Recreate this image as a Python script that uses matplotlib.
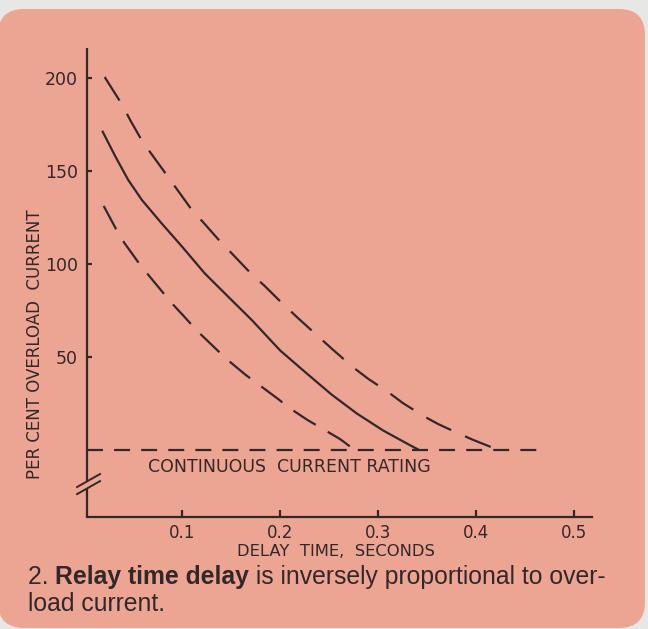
import matplotlib
matplotlib.use("Agg")
import matplotlib.pyplot as plt
from matplotlib.patches import FancyBboxPatch

# --- data ------------------------------------------------------------------
# upper (dashed) limit curve
upper_x = [0.021, 0.039, 0.047, 0.059, 0.067, 0.085, 0.094, 0.110, 0.121,
           0.140, 0.149, 0.170, 0.184, 0.202, 0.218, 0.235, 0.253, 0.274,
           0.290, 0.310, 0.325, 0.346, 0.361, 0.381, 0.397, 0.417]
upper_y = [200.5, 185.5, 177.4, 166.3, 160.4, 147.3, 140.7, 129.0, 122.7,
           111.4, 106.6, 95.0, 88.3, 78.9, 71.0, 62.9, 54.3, 44.6,
           38.2, 31.2, 25.3, 18.3, 14.0, 9.1, 5.4, 1.2]
# nominal (solid) curve
mid_x = [0.019, 0.032, 0.045, 0.059, 0.079, 0.100, 0.123, 0.147, 0.171,
         0.200, 0.227, 0.252, 0.278, 0.305, 0.332, 0.340]
mid_y = [171.1, 157.7, 145.2, 134.4, 121.9, 109.3, 95.0, 82.4, 69.9,
         53.5, 41.2, 30.0, 19.7, 10.5, 2.7, 0.5]
# lower (dashed) limit curve
lower_x = [0.020, 0.034, 0.041, 0.056, 0.065, 0.083, 0.089, 0.106, 0.115,
           0.135, 0.144, 0.165, 0.176, 0.198, 0.208, 0.228, 0.242, 0.261,
           0.271, 0.279]
lower_y = [131.2, 117.4, 111.4, 100.4, 94.5, 83.0, 79.2, 69.5, 64.2,
           54.1, 49.5, 40.3, 36.0, 27.4, 23.1, 16.1, 11.8, 5.9, 2.0, 0.0]
# continuous current rating line
rating_x = [0.003, 0.466]
rating_y = [0.0, 0.0]

xticks = [0.1, 0.2, 0.3, 0.4, 0.5]
xticklabels = ["0.1", "0.2", "0.3", "0.4", "0.5"]
yticks = [50, 100, 150, 200]
yticklabels = ["50", "100", "150", "200"]

BG = "#E7E7E5"
CARD = "#ECA592"
INK = "#33272A"

plt.rcParams["lines.scale_dashes"] = False
plt.rcParams["font.family"] = ["DejaVu Sans"]

W, H = 648, 629
fig = plt.figure(figsize=(W / 100, H / 100), dpi=100)
fig.patch.set_facecolor(BG)

# salmon card with rounded corners (inches)
card = FancyBboxPatch((-0.02, 0.01), 6.47, 6.19,
                      boxstyle="round,pad=0,rounding_size=0.26",
                      transform=fig.dpi_scale_trans,
                      facecolor=CARD, edgecolor="none", zorder=-5)
fig.patches.append(card)

ax = fig.add_axes([87 / W, 1 - 517 / H, 505 / W, 469 / H])
ax.set_zorder(2)
ax.set_facecolor("none")
ax.set_xlim(0.003, 0.518)
ax.set_ylim(-36.0, 216.1)

lw = 1.6
ax.plot(upper_x, upper_y, color=INK, lw=lw, dashes=(20, 11),
        dash_capstyle="butt", dash_joinstyle="round")
ax.plot(mid_x, mid_y, color=INK, lw=lw, solid_joinstyle="round")
ax.plot(lower_x, lower_y, color=INK, lw=lw, dashes=(19, 10),
        dash_capstyle="butt", dash_joinstyle="round")
ax.plot(rating_x, rating_y, color=INK, lw=lw, dashes=(11.5, 8),
        dash_capstyle="butt")

ax.text(0.065, -9, "CONTINUOUS  CURRENT RATING", fontsize=12.5,
        color=INK, va="center", ha="left")

# spines: bottom kept, left drawn by hand with a break
for s in ("top", "right", "left"):
    ax.spines[s].set_visible(False)
ax.spines["bottom"].set_linewidth(lw)
ax.spines["bottom"].set_color(INK)

ytr = ax.get_yaxis_transform()
ax.plot([0, 0], [-36.0, -20.4], color=INK, lw=lw, transform=ytr,
        clip_on=False, solid_capstyle="butt")
ax.plot([0, 0], [-16.7, 216.1], color=INK, lw=lw, transform=ytr,
        clip_on=False, solid_capstyle="butt")
ax.plot([-0.00714, 0.0163], [-19.9, -12.9], color=INK, lw=1.4, clip_on=False)
ax.plot([-0.00714, 0.0163], [-23.7, -16.7], color=INK, lw=1.4, clip_on=False)

ax.set_xticks(xticks)
ax.set_xticklabels(xticklabels)
ax.set_yticks(yticks)
ax.set_yticklabels(yticklabels)
ax.tick_params(axis="x", direction="in", length=4.7, width=lw, color=INK,
               labelcolor=INK, labelsize=12, pad=5)
ax.tick_params(axis="y", direction="in", length=3.6, width=lw, color=INK,
               labelcolor=INK, labelsize=12.5, pad=6.5)

fig.text(35 / W, 1 - 344 / H, "PER CENT OVERLOAD  CURRENT", rotation=90,
         fontsize=12, color=INK, ha="center", va="center")
fig.text(336 / W, 1 - 551 / H, "DELAY  TIME,  SECONDS", fontsize=11.8,
         color=INK, ha="center", va="center")

# caption with a bold run in the middle
cap_font = ["Liberation Sans", "DejaVu Sans"]
fig.canvas.draw()
r = fig.canvas.get_renderer()
x0 = 28
y1 = H - 577
parts = [("2. ", "normal"), ("Relay time delay", "bold"),
         (" is inversely proportional to over-", "normal")]
for txt, wt in parts:
    t = fig.text(x0 / W, y1 / H, txt, fontsize=17.8, family=cap_font,
                 weight=wt, color=INK, ha="left", va="center")
    bb = t.get_window_extent(renderer=r)
    x0 = bb.x1
fig.text(28 / W, (H - 604) / H, "load current.", fontsize=17.8,
         family=cap_font, color=INK, ha="left", va="center")

fig.savefig("out.png", dpi=100, facecolor=BG)
